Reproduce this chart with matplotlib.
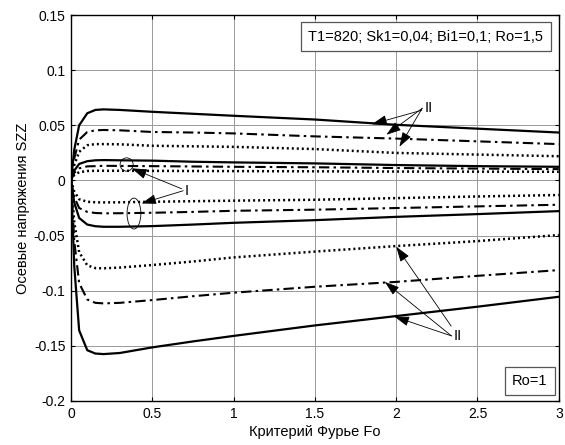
import matplotlib.pyplot as plt
from matplotlib.patches import Ellipse
import numpy as np

plt.rcParams['font.family'] = ['Liberation Sans', 'DejaVu Sans']

fo = [0, 0.02, 0.05, 0.1, 0.15, 0.2, 0.3, 0.5, 0.75, 1.0, 1.5, 2.0, 2.5, 3.0]

# group II (large), upper
s2_solid_up = [0, 0.028, 0.050, 0.061, 0.064, 0.0645, 0.064, 0.0623, 0.0605, 0.0587, 0.0553, 0.0505, 0.047, 0.0435]
s2_dash_up = [0, 0.020, 0.037, 0.044, 0.0455, 0.0458, 0.0455, 0.044, 0.0435, 0.0427, 0.040, 0.038, 0.0355, 0.033]
s2_dot_up = [0, 0.014, 0.026, 0.032, 0.033, 0.033, 0.0328, 0.0315, 0.031, 0.0305, 0.0285, 0.025, 0.0235, 0.022]
# group I (small)
s1_solid_up = [0, 0.009, 0.015, 0.0175, 0.0183, 0.0185, 0.0183, 0.018, 0.017, 0.0164, 0.0155, 0.014, 0.013, 0.0124]
s1_dash_up = [0, 0.007, 0.011, 0.0128, 0.013, 0.0133, 0.0132, 0.013, 0.0127, 0.0124, 0.012, 0.0113, 0.0108, 0.0103]
s1_dot_up = [0, 0.005, 0.0075, 0.0086, 0.0088, 0.0088, 0.0088, 0.0087, 0.0086, 0.0085, 0.0083, 0.0081, 0.008, 0.0079]
s1_dot_lo = [0, -0.010, -0.017, -0.0193, -0.0198, -0.0199, -0.0198, -0.0193, -0.0188, -0.0183, -0.0175, -0.016, -0.0145, -0.0132]
s1_dash_lo = [0, -0.015, -0.025, -0.0285, -0.0295, -0.0298, -0.0297, -0.0293, -0.0285, -0.0275, -0.0265, -0.025, -0.0235, -0.022]
s1_solid_lo = [0, -0.020, -0.034, -0.040, -0.0415, -0.042, -0.042, -0.0414, -0.040, -0.0384, -0.036, -0.033, -0.0305, -0.0278]
# group II, lower
s2_dot_lo = [0, -0.038, -0.065, -0.077, -0.0795, -0.0797, -0.079, -0.0767, -0.0735, -0.0698, -0.0645, -0.0595, -0.055, -0.0495]
s2_dash_lo = [0, -0.055, -0.093, -0.108, -0.111, -0.1115, -0.111, -0.1085, -0.105, -0.1018, -0.0964, -0.092, -0.0865, -0.0813]
s2_solid_lo = [0, -0.078, -0.136, -0.154, -0.157, -0.1575, -0.1565, -0.1514, -0.146, -0.141, -0.1315, -0.123, -0.1145, -0.1055]

xticks = [0, 0.5, 1, 1.5, 2, 2.5, 3]
xticklabels = ['0', '0.5', '1', '1.5', '2', '2.5', '3']
yticks = [-0.2, -0.15, -0.1, -0.05, 0, 0.05, 0.1, 0.15]
yticklabels = ['-0.2', '-0.15', '-0.1', '-0.05', '0', '0.05', '0.1', '0.15']

solid = '-'
dashdot = (0, (5, 2, 1.2, 2))
dotted = (0, (0.8, 1.2))

fig = plt.figure(figsize=(5.65, 4.45), dpi=100)
ax = fig.add_axes([0.1257, 0.099, 0.8633, 0.867])

curves = [
    (s2_solid_up, solid, 1.6), (s2_dash_up, dashdot, 1.5), (s2_dot_up, dotted, 1.8),
    (s1_solid_up, solid, 1.6), (s1_dash_up, dashdot, 1.5), (s1_dot_up, dotted, 1.8),
    (s1_dot_lo, dotted, 1.8), (s1_dash_lo, dashdot, 1.5), (s1_solid_lo, solid, 1.6),
    (s2_dot_lo, dotted, 1.8), (s2_dash_lo, dashdot, 1.5), (s2_solid_lo, solid, 1.6),
]
for y, ls, lw in curves:
    ax.plot(fo, y, color='black', linestyle=ls, linewidth=lw)

ax.set_xlim(0, 3)
ax.set_ylim(-0.2, 0.15)
ax.set_xticks(xticks)
ax.set_xticklabels(xticklabels)
ax.set_yticks(yticks)
ax.set_yticklabels(yticklabels)
ax.tick_params(direction='in', top=True, right=True, labelsize=10, length=3, pad=4)
ax.grid(True, color='#999999', linewidth=0.7)
for sp in ax.spines.values():
    sp.set_linewidth(1.0)

ax.set_xlabel('Критерий Фурье Fo', fontsize=10.5, labelpad=3)
ax.set_ylabel('Осевые напряжения SZZ', fontsize=10.5, labelpad=3)

ap = dict(arrowstyle='-|>,head_length=0.9,head_width=0.3', color='black', lw=0.6,
          shrinkA=0, shrinkB=0)

# II, upper
ax.annotate('II', xy=(1.85, 0.051), xytext=(2.2, 0.0655), fontsize=10.5,
            ha='center', va='center', arrowprops=ap)
ax.annotate('', xy=(1.94, 0.0415), xytext=(2.16, 0.0655), arrowprops=ap)
ax.annotate('', xy=(2.02, 0.0306), xytext=(2.16, 0.0655), arrowprops=ap)

# II, lower
ax.annotate('II', xy=(2.0, -0.060), xytext=(2.38, -0.141), fontsize=10.5,
            ha='center', va='center', arrowprops=ap)
ax.annotate('', xy=(1.93, -0.092), xytext=(2.34, -0.141), arrowprops=ap)
ax.annotate('', xy=(1.99, -0.1236), xytext=(2.34, -0.141), arrowprops=ap)

# I
ax.annotate('I', xy=(0.373, 0.011), xytext=(0.71, -0.0093), fontsize=10.5,
            ha='center', va='center', arrowprops=ap)
ax.annotate('', xy=(0.434, -0.0208), xytext=(0.69, -0.0093), arrowprops=ap)

ax.add_patch(Ellipse((0.342, 0.0145), 0.08, 0.012, fill=False, lw=0.6, color='black'))
ax.add_patch(Ellipse((0.387, -0.030), 0.085, 0.028, fill=False, lw=0.6, color='black'))

box = dict(boxstyle='square,pad=0.5', facecolor='white', edgecolor='#555555', lw=0.9)
ax.text(2.905, 0.1305, 'T1=820; Sk1=0,04; Bi1=0,1; Ro=1,5', fontsize=10.5,
        ha='right', va='center', bbox=box)
ax.text(2.93, -0.182, 'Ro=1', fontsize=10.5, ha='right', va='center', bbox=box)

fig.savefig('out.png', dpi=100)
